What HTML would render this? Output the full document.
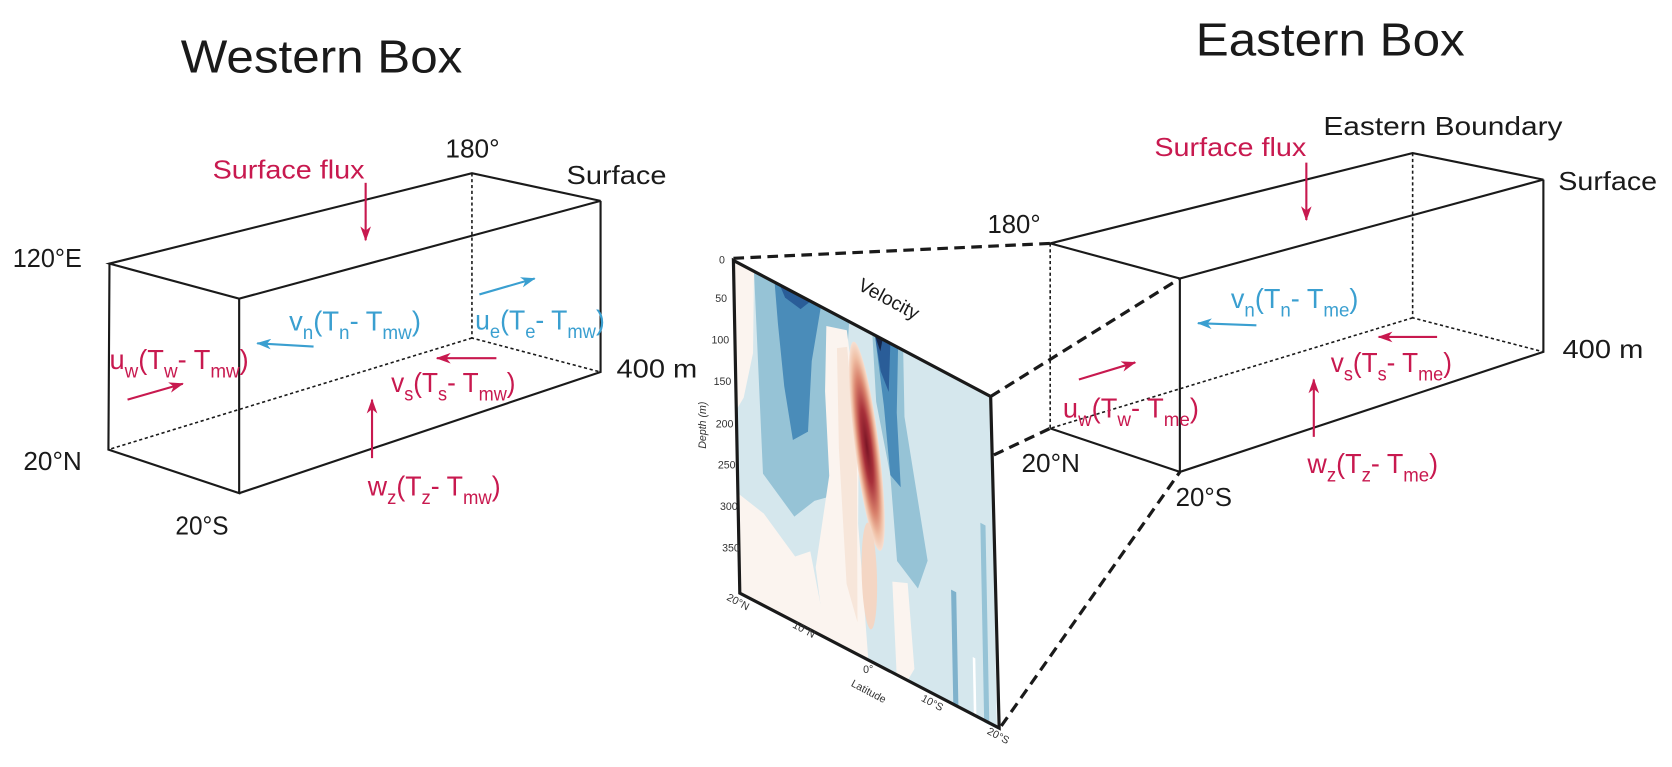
<!DOCTYPE html>
<html><head><meta charset="utf-8"><style>
html,body{margin:0;padding:0;background:#fff;}
svg{display:block;}
text{font-family:"Liberation Sans",sans-serif;}
</style></head><body>
<svg width="1672" height="767" viewBox="0 0 1573 721.6" preserveAspectRatio="none" xmlns="http://www.w3.org/2000/svg">
<defs>
<marker id="ar" viewBox="0 0 14 10" refX="13" refY="5" markerWidth="14" markerHeight="10" markerUnits="userSpaceOnUse" orient="auto"><path d="M0,0 L14,5 L0,10 L4,5 Z" fill="#c8194f"/></marker>
<marker id="ab" viewBox="0 0 14 10" refX="13" refY="5" markerWidth="14" markerHeight="10" markerUnits="userSpaceOnUse" orient="auto"><path d="M0,0 L14,5 L0,10 L4,5 Z" fill="#3a9fd0"/></marker>
<clipPath id="pc"><rect x="0" y="0" width="100" height="100"/></clipPath>
<radialGradient id="rg" cx="0.5" cy="0.5" r="0.5">
<stop offset="0" stop-color="#7a1525"/><stop offset="0.35" stop-color="#a8303a"/><stop offset="0.65" stop-color="#d9826c"/><stop offset="0.85" stop-color="#f0c0a6"/><stop offset="1" stop-color="#f7e0d2"/>
</radialGradient>
</defs>

<!-- Titles -->
<text x="170" y="68" font-size="44" fill="#1a1a1a" textLength="265" lengthAdjust="spacingAndGlyphs">Western Box</text>
<text x="1125" y="52" font-size="44" fill="#1a1a1a" textLength="253" lengthAdjust="spacingAndGlyphs">Eastern Box</text>

<!-- WESTERN BOX -->
<g stroke="#1a1a1a" stroke-width="2" fill="none">
<path d="M103,248 L225,281 L565,189 L444,163 Z"/>
<path d="M103,248 L102,423 L225,464 L225,281"/>
<path d="M225,464 L565,350 L565,189"/>
</g>
<g stroke="#1a1a1a" stroke-width="1.5" fill="none" stroke-dasharray="3,2.5">
<path d="M444,163 L444,318 L565,350"/>
<path d="M444,318 L102,423"/>
</g>
<text x="200" y="168" font-size="24" fill="#c8194f" textLength="143" lengthAdjust="spacingAndGlyphs">Surface flux</text>
<text x="419" y="148" font-size="24" fill="#1a1a1a" textLength="51" lengthAdjust="spacingAndGlyphs">180°</text>
<text x="533" y="173" font-size="24" fill="#1a1a1a" textLength="94" lengthAdjust="spacingAndGlyphs">Surface</text>
<text x="12" y="251" font-size="24" fill="#1a1a1a" textLength="65" lengthAdjust="spacingAndGlyphs">120°E</text>
<text x="22" y="442" font-size="24" fill="#1a1a1a" textLength="55" lengthAdjust="spacingAndGlyphs">20°N</text>
<text x="165" y="503" font-size="24" fill="#1a1a1a" textLength="50" lengthAdjust="spacingAndGlyphs">20°S</text>
<text x="580" y="355" font-size="24" fill="#1a1a1a" textLength="76" lengthAdjust="spacingAndGlyphs">400 m</text>

<g stroke-width="2" fill="none">
<line x1="344" y1="172" x2="344" y2="226" stroke="#c8194f" marker-end="url(#ar)"/>
<line x1="295" y1="326" x2="242" y2="323" stroke="#3a9fd0" marker-end="url(#ab)"/>
<line x1="451" y1="277" x2="503" y2="262" stroke="#3a9fd0" marker-end="url(#ab)"/>
<line x1="120" y1="376" x2="172" y2="361" stroke="#c8194f" marker-end="url(#ar)"/>
<line x1="467" y1="337" x2="411" y2="337" stroke="#c8194f" marker-end="url(#ar)"/>
<line x1="350" y1="431" x2="350" y2="376" stroke="#c8194f" marker-end="url(#ar)"/>
</g>

<g font-size="26">
<text x="272" y="311" fill="#3a9fd0" textLength="124" lengthAdjust="spacingAndGlyphs">v<tspan font-size="18" dy="8">n</tspan><tspan dy="-8">(T</tspan><tspan font-size="18" dy="8">n</tspan><tspan dy="-8">- T</tspan><tspan font-size="18" dy="8">mw</tspan><tspan dy="-8">)</tspan></text>
<text x="447" y="310" fill="#3a9fd0" textLength="122" lengthAdjust="spacingAndGlyphs">u<tspan font-size="18" dy="8">e</tspan><tspan dy="-8">(T</tspan><tspan font-size="18" dy="8">e</tspan><tspan dy="-8">- T</tspan><tspan font-size="18" dy="8">mw</tspan><tspan dy="-8">)</tspan></text>
<text x="103" y="347" fill="#c8194f" textLength="131" lengthAdjust="spacingAndGlyphs">u<tspan font-size="18" dy="8">w</tspan><tspan dy="-8">(T</tspan><tspan font-size="18" dy="8">w</tspan><tspan dy="-8">- T</tspan><tspan font-size="18" dy="8">mw</tspan><tspan dy="-8">)</tspan></text>
<text x="368" y="369" fill="#c8194f" textLength="117" lengthAdjust="spacingAndGlyphs">v<tspan font-size="18" dy="8">s</tspan><tspan dy="-8">(T</tspan><tspan font-size="18" dy="8">s</tspan><tspan dy="-8">- T</tspan><tspan font-size="18" dy="8">mw</tspan><tspan dy="-8">)</tspan></text>
<text x="346" y="466" fill="#c8194f" textLength="125" lengthAdjust="spacingAndGlyphs">w<tspan font-size="18" dy="8">z</tspan><tspan dy="-8">(T</tspan><tspan font-size="18" dy="8">z</tspan><tspan dy="-8">- T</tspan><tspan font-size="18" dy="8">mw</tspan><tspan dy="-8">)</tspan></text>
</g>

<!-- VELOCITY PANEL -->
<g transform="matrix(2.42,1.28,0.06,3.13,690,245)">
<g clip-path="url(#pc)">
<rect x="0" y="0" width="100" height="100" fill="#d5e7ed"/>
<path d="M8,0 L45,0 L42,30 L38,55 L30,60 L22,68 L10,60 L9,30 Z" fill="#96c3d6"/>
<path d="M16,0 L34,0 L30,18 L28,40 L22,45 L19,30 L17,12 Z" fill="#4a8cb9"/>
<path d="M18,0 L30,0 L26,4 L20,3 Z" fill="#2a5d98"/>
<path d="M0,0 L8,0 L7,25 L3,40 L0,45 Z" fill="#fbf4ef"/>
<path d="M36,5 L44,3 L48,30 L47,60 L50,100 L33,100 L30,80 L36,50 L35,25 Z" fill="#fbf4ef"/>
<path d="M0,70 L10,72 L22,80 L28,76 L34,100 L0,100 Z" fill="#fbf4ef"/>
<path d="M40,10 L44,8 L47,40 L46,90 L42,80 L40,40 Z" fill="#f7e6da"/>
<path d="M54,0 L66,0 L66,20 L70,40 L74,60 L70,70 L62,65 L60,40 L55,20 Z" fill="#96c3d6"/>
<path d="M55,0 L64,0 L63,20 L64,42 L60,40 L58,20 Z" fill="#4a8cb9"/>
<path d="M55,0 L61,0 L60,15 L57,10 Z" fill="#2a5d98"/>
<path d="M55,0 L58,0 L57,4 Z" fill="#15264a"/>
<ellipse cx="51" cy="35" rx="5" ry="30" fill="url(#rg)" transform="rotate(-8 51 35)"/>
<ellipse cx="51" cy="74" rx="3" ry="16" fill="#f4d6c4"/>
<path d="M60,72 L66,70 L68,95 L65,100 L61,100 Z" fill="#fbf4ef"/>
<path d="M83,65 L85,65 L85,100 L83,100 Z" fill="#7fb2cc"/>
<path d="M95,40 L97,40 L97,100 L95,100 Z" fill="#96c3d6"/>
<path d="M91,82 L92,82 L92,100 L91,100 Z" fill="#ffffff"/>
</g>
</g>
<g stroke="#1a1a1a" stroke-width="3" fill="none">
<path d="M690,245 L932,373 L940,685 L696,558 Z"/>
</g>
<g stroke="#1a1a1a" stroke-width="3" fill="none" stroke-dasharray="10,6">
<line x1="690" y1="243" x2="988" y2="229"/>
<line x1="932" y1="373" x2="1110" y2="262"/>
<line x1="935" y1="428" x2="988" y2="403"/>
<line x1="942" y1="683" x2="1110" y2="444"/>
</g>
<g font-size="10" fill="#333">
<text x="682" y="248" text-anchor="end">0</text>
<text x="684" y="284" text-anchor="end">50</text>
<text x="686" y="323" text-anchor="end">100</text>
<text x="688" y="362" text-anchor="end">150</text>
<text x="690" y="402" text-anchor="end">200</text>
<text x="692" y="441" text-anchor="end">250</text>
<text x="694" y="480" text-anchor="end">300</text>
<text x="696" y="519" text-anchor="end">350</text>
<text transform="translate(664,400) rotate(-90)" font-size="10" font-style="italic" text-anchor="middle">Depth (m)</text>
<text transform="translate(683,564) rotate(28)">20°N</text>
<text transform="translate(745,590) rotate(28)">10°N</text>
<text transform="translate(812,633)">0°</text>
<text transform="translate(800,645) rotate(28)">Latitude</text>
<text transform="translate(866,659) rotate(28)">10°S</text>
<text transform="translate(928,690) rotate(28)">20°S</text>
</g>
<text transform="translate(806,272) rotate(28)" font-size="18" fill="#1a1a1a">Velocity</text>

<!-- EASTERN BOX -->
<g stroke="#1a1a1a" stroke-width="2" fill="none">
<path d="M988,229 L1110,262 L1452,169 L1329,144 Z"/>
<path d="M1110,262 L1110,444 L988,403"/>
<path d="M1110,444 L1452,331 L1452,169"/>
</g>
<g stroke="#1a1a1a" stroke-width="1.5" fill="none" stroke-dasharray="3,2.5">
<path d="M988,229 L988,403"/>
<path d="M1329,144 L1329,299 L1452,331"/>
<path d="M1329,299 L988,403"/>
</g>
<text x="1245" y="127" font-size="24" fill="#1a1a1a" textLength="225" lengthAdjust="spacingAndGlyphs">Eastern Boundary</text>
<text x="1086" y="147" font-size="24" fill="#c8194f" textLength="143" lengthAdjust="spacingAndGlyphs">Surface flux</text>
<text x="929" y="219" font-size="24" fill="#1a1a1a" textLength="50" lengthAdjust="spacingAndGlyphs">180°</text>
<text x="1466" y="179" font-size="24" fill="#1a1a1a" textLength="93" lengthAdjust="spacingAndGlyphs">Surface</text>
<text x="1470" y="337" font-size="24" fill="#1a1a1a" textLength="76" lengthAdjust="spacingAndGlyphs">400 m</text>
<text x="961" y="444" font-size="24" fill="#1a1a1a" textLength="55" lengthAdjust="spacingAndGlyphs">20°N</text>
<text x="1106" y="476" font-size="24" fill="#1a1a1a" textLength="53" lengthAdjust="spacingAndGlyphs">20°S</text>

<g stroke-width="2" fill="none">
<line x1="1229" y1="153" x2="1229" y2="207" stroke="#c8194f" marker-end="url(#ar)"/>
<line x1="1182" y1="306" x2="1127" y2="304" stroke="#3a9fd0" marker-end="url(#ab)"/>
<line x1="1352" y1="317" x2="1297" y2="317" stroke="#c8194f" marker-end="url(#ar)"/>
<line x1="1015" y1="357" x2="1068" y2="341" stroke="#c8194f" marker-end="url(#ar)"/>
<line x1="1236" y1="411" x2="1236" y2="357" stroke="#c8194f" marker-end="url(#ar)"/>
</g>
<g font-size="26">
<text x="1158" y="290" fill="#3a9fd0" textLength="120" lengthAdjust="spacingAndGlyphs">v<tspan font-size="18" dy="8">n</tspan><tspan dy="-8">(T</tspan><tspan font-size="18" dy="8">n</tspan><tspan dy="-8">- T</tspan><tspan font-size="18" dy="8">me</tspan><tspan dy="-8">)</tspan></text>
<text x="1252" y="350" fill="#c8194f" textLength="114" lengthAdjust="spacingAndGlyphs">v<tspan font-size="18" dy="8">s</tspan><tspan dy="-8">(T</tspan><tspan font-size="18" dy="8">s</tspan><tspan dy="-8">- T</tspan><tspan font-size="18" dy="8">me</tspan><tspan dy="-8">)</tspan></text>
<text x="1000" y="393" fill="#c8194f" textLength="128" lengthAdjust="spacingAndGlyphs">u<tspan font-size="18" dy="8">w</tspan><tspan dy="-8">(T</tspan><tspan font-size="18" dy="8">w</tspan><tspan dy="-8">- T</tspan><tspan font-size="18" dy="8">me</tspan><tspan dy="-8">)</tspan></text>
<text x="1230" y="445" fill="#c8194f" textLength="123" lengthAdjust="spacingAndGlyphs">w<tspan font-size="18" dy="8">z</tspan><tspan dy="-8">(T</tspan><tspan font-size="18" dy="8">z</tspan><tspan dy="-8">- T</tspan><tspan font-size="18" dy="8">me</tspan><tspan dy="-8">)</tspan></text>
</g>
</svg>
</body></html>
